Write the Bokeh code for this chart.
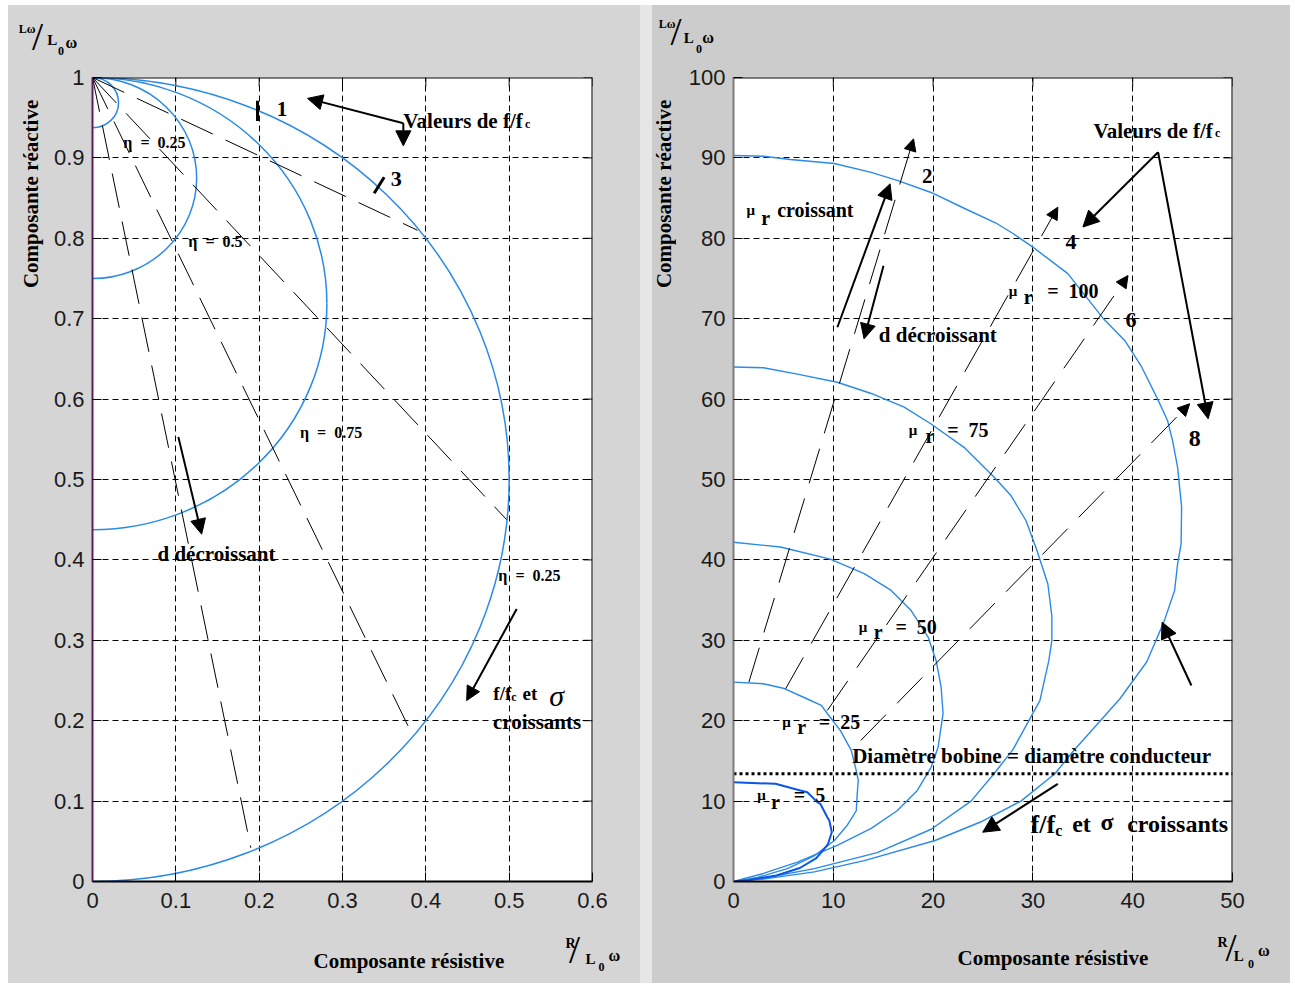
from bokeh.plotting import figure
from bokeh.layouts import row, column
from bokeh.models import (Label, Arrow, NormalHead, FixedTicker, Range1d, Spacer, Span)
from bokeh.embed import file_html
from bokeh.resources import INLINE

# ------------------------------------------------------------------ data
# left panel : normalised impedance, eta circles and constant f/fc rays
L_XTICKS = [0, 0.1, 0.2, 0.3, 0.4, 0.5, 0.6]
L_XLABELS = ["0", "0.1", "0.2", "0.3", "0.4", "0.5", "0.6"]
L_YTICKS = [0, 0.1, 0.2, 0.3, 0.4, 0.5, 0.6, 0.7, 0.8, 0.9, 1]
L_YLABELS = ["0", "0.1", "0.2", "0.3", "0.4", "0.5", "0.6", "0.7", "0.8", "0.9", "1"]

ETA_TOP = [1.0, 1.0, 1.0, 1.0]              # upper end of each eta circle
ETA_BOTTOM = [0.9375, 0.75, 0.4375, 0.0]    # lower end of each eta circle

RAY_X0 = [0.0, 0.0, 0.0, 0.0]
RAY_Y0 = [1.0, 1.0, 1.0, 1.0]
RAY_X1 = [0.39, 0.497, 0.385, 0.19]
RAY_Y1 = [0.81, 0.45, 0.18, 0.042]

MARK_X0 = [0.198, 0.338]
MARK_Y0 = [0.946, 0.856]
MARK_X1 = [0.198, 0.350]
MARK_Y1 = [0.971, 0.876]

# right panel : curves for several mu_r
R_XTICKS = [0, 10, 20, 30, 40, 50]
R_XLABELS = ["0", "10", "20", "30", "40", "50"]
R_YTICKS = [0, 10, 20, 30, 40, 50, 60, 70, 80, 90, 100]
R_YLABELS = ["0", "10", "20", "30", "40", "50", "60", "70", "80", "90", "100"]

MU5_X = [0.0, 4.2, 6.7, 7.4, 8.4, 8.7, 9.4, 9.6, 9.85, 9.45, 8.3, 6.65, 4.3, 1.5, 0.0]
MU5_Y = [12.35, 12.15, 11.32, 11.1, 9.87, 9.66, 8.0, 7.59, 6.13, 4.6, 2.9, 1.68, 0.75, 0.17, 0.0]

MU25_X = [0.0, 3.0, 5.1, 7.4, 8.8, 9.4, 10.7, 11.8, 12.3, 12.5, 12.4, 12.3, 11.4, 10.1, 8.1,
          5.4, 2.4, 0.0]
MU25_Y = [24.8, 24.6, 24.0, 22.7, 21.9, 20.9, 18.8, 16.3, 13.8, 12.6, 10.9, 8.8, 7.0, 5.1, 3.2,
          1.6, 0.5, 0.0]

MU50_X = [0.0, 4.7, 9.7, 13.1, 15.8, 17.8, 19.5, 20.3, 20.8, 21.0, 20.5, 19.8, 18.4, 16.4,
          13.8, 10.4, 6.4, 3.0, 0.0]
MU50_Y = [42.2, 41.6, 40.1, 38.3, 36.2, 33.7, 30.4, 27.5, 24.2, 20.9, 16.7, 14.2, 11.3, 8.8,
          6.6, 4.5, 2.4, 1.0, 0.0]

MU75_X = [0.0, 3.0, 6.4, 10.4, 13.8, 17.1, 19.8, 23.1, 26.1, 27.8, 29.3, 30.4, 31.5, 31.9,
          31.9, 31.6, 30.7, 28.0, 26.1, 23.8, 19.8, 14.4, 8.1, 3.0, 0.0]
MU75_Y = [64.0, 63.9, 63.1, 62.1, 60.7, 59.0, 56.9, 54.0, 50.3, 48.0, 44.9, 41.2, 37.0, 33.0,
          30.0, 27.5, 22.5, 16.4, 13.4, 10.0, 6.5, 3.6, 1.6, 0.4, 0.0]

MU100_X = [0.0, 3.0, 5.7, 10.1, 13.8, 16.4, 19.8, 23.0, 26.3, 28.0, 30.0, 33.5, 37.0, 39.2,
           40.9, 42.5, 43.5, 44.0, 44.5, 44.9, 44.85, 44.5, 44.2, 43.1, 41.4, 38.7, 34.1,
           32.2, 28.8, 24.75, 20.2, 13.1, 8.1, 3.0, 0.0]
MU100_Y = [90.3, 90.2, 89.8, 89.3, 88.2, 87.2, 85.7, 83.8, 81.9, 80.6, 78.9, 75.6, 70.1, 67.3,
           64.0, 60.0, 57.3, 54.8, 51.5, 46.6, 42.0, 39.5, 36.2, 32.2, 27.3, 22.7, 16.3,
           13.4, 10.0, 7.4, 5.1, 2.6, 1.2, 0.3, 0.0]

# constant f/fc lines (2, 4, 6, 8)
FF_X0 = [1.54, 5.22, 9.4, 12.75]
FF_Y0 = [24.79, 23.97, 21.27, 17.54]
FF_X1 = [18.04, 32.5, 39.53, 45.71]
FF_Y1 = [92.37, 83.87, 75.37, 59.42]

DOT_X = [0.0, 50.0]
DOT_Y = [13.4, 13.4]

# ------------------------------------------------------------------ style
BLUE = "#2a8ae8"
DARK_BLUE = "#0a55e6"
SERIF = "Liberation Serif"
SANS = "Liberation Sans"
BG_L = "#d5d5d5"
BG_R = "#cccccc"
NB = "\u00a0"
MAIN_H = 859


def base_fig(width, xr, yr, xt, xl, yt, yl, bl, br, bg, left_line):
    p = figure(width=width, height=MAIN_H, x_range=Range1d(*xr), y_range=Range1d(*yr),
               output_backend="svg", toolbar_location=None,
               min_border_left=bl, min_border_right=br, min_border_top=15,
               min_border_bottom=40, border_fill_color=bg,
               background_fill_color="white", outline_line_color=None)
    for ax, ticks, labels in ((p.xaxis[0], xt, xl), (p.yaxis[0], yt, yl)):
        ax.ticker = FixedTicker(ticks=ticks)
        ax.major_label_overrides = dict(zip(ticks, labels))
        ax.major_label_text_font = SANS
        ax.major_label_text_font_size = "22px"
        ax.major_label_text_color = "#1a1a1a"
        ax.major_tick_in = 9
        ax.major_tick_out = 0
        ax.minor_tick_line_color = None
        ax.axis_line_width = 2
        ax.axis_line_color = "black"
        ax.major_tick_line_color = "black"
    p.xaxis[0].major_label_standoff = 11
    p.yaxis[0].major_label_standoff = 8
    p.yaxis[0].axis_line_color = left_line
    p.xgrid[0].ticker = FixedTicker(ticks=xt)
    p.ygrid[0].ticker = FixedTicker(ticks=yt)
    for g in (p.xgrid[0], p.ygrid[0]):
        g.grid_line_color = "black"
        g.grid_line_dash = "6 4"
        g.grid_line_alpha = 1.0
        g.grid_line_width = 1
    # inward ticks on the top and right sides, and the box edges
    p.ray(x=xt, y=[yt[-1]] * len(xt), length=9, length_units="screen", angle=-90,
          angle_units="deg", line_color="black", line_width=1)
    p.ray(x=[xt[-1]] * len(yt), y=yt, length=9, length_units="screen", angle=180,
          angle_units="deg", line_color="black", line_width=1)
    p.add_layout(Span(location=yt[-1], dimension="width", line_color="black", line_width=2))
    p.add_layout(Span(location=xt[-1], dimension="height", line_color="black", line_width=2))
    return p


def strip(w, h, bg):
    return figure(width=w, height=h, x_range=Range1d(0, w), y_range=Range1d(0, h),
                  x_axis_type=None, y_axis_type=None, output_backend="svg",
                  toolbar_location=None, min_border=0, background_fill_color=bg,
                  border_fill_color=bg, outline_line_color=None)


def txt(p, x, y, text, size=20, style="bold", font=SERIF, align="left",
        baseline="alphabetic", angle=0):
    p.add_layout(Label(x=x, y=y, text=text, text_font=font,
                       text_font_size=f"{size}px", text_font_style=style,
                       text_align=align, text_baseline=baseline, angle=angle,
                       angle_units="deg", text_color="black"))


def arrow(p, x0, y0, x1, y1, size=14, width=2, dash="solid"):
    p.add_layout(Arrow(x_start=x0, y_start=y0, x_end=x1, y_end=y1,
                       line_width=width, line_color="black", line_dash=dash,
                       end=NormalHead(size=size, fill_color="black",
                                      line_color="black", line_width=1)))


def unit_label(s, num, nsize, nx, ny, sx, sy, lx, ly, zx, zy, wx, wy):
    txt(s, nx, ny, num, nsize)
    txt(s, sx, sy, "/", 40, style="normal", font=SERIF, align="center", baseline="middle")
    txt(s, lx, ly, "L", 15)
    txt(s, zx, zy, "0", 12)
    txt(s, wx, wy, "ω", 16)


# ------------------------------------------------------------------ left
pl = base_fig(592, (0, 0.6), (0, 1), L_XTICKS, L_XLABELS, L_YTICKS, L_YLABELS,
              44, 48, BG_L, "#5a1f5e")

eta_cy = [(t + b) / 2 for t, b in zip(ETA_TOP, ETA_BOTTOM)]
eta_d = [t - b for t, b in zip(ETA_TOP, ETA_BOTTOM)]
pl.ellipse(x=[0.0] * len(eta_cy), y=eta_cy, width=eta_d, height=eta_d,
           fill_color=None, line_color=BLUE, line_width=1.5)
for x0, y0, x1, y1 in zip(RAY_X0, RAY_Y0, RAY_X1, RAY_Y1):
    pl.line([x0, x1], [y0, y1], line_color="black", line_width=1, line_dash="35 14")
pl.segment(x0=MARK_X0, y0=MARK_Y0, x1=MARK_X1, y1=MARK_Y1, line_color="black",
           line_width=3)

txt(pl, 0.221, 0.961, "1", 21)
txt(pl, 0.358, 0.874, "3", 22)
txt(pl, 0.373, 0.9465, "Valeurs de f/f", 21)
txt(pl, 0.519, 0.9425, "c", 12)
arrow(pl, 0.373, 0.943, 0.258, 0.974, 15)
arrow(pl, 0.373, 0.943, 0.373, 0.915, 15)
txt(pl, 0.037, 0.919, f"η{NB}{NB}={NB}{NB}0.25", 16)
txt(pl, 0.115, 0.796, f"η{NB}{NB}={NB}{NB}0.5", 16)
txt(pl, 0.249, 0.559, f"η{NB}{NB}={NB}{NB}0.75", 16)
txt(pl, 0.487, 0.381, f"η{NB}{NB}={NB}{NB}0.25", 16)
txt(pl, 0.078, 0.407, "d décroissant", 21)
arrow(pl, 0.103, 0.553, 0.131, 0.432, 15)
txt(pl, 0.481, 0.2335, "f/f", 19)
txt(pl, 0.5025, 0.229, "c", 12)
txt(pl, 0.516, 0.2335, "et", 19)
txt(pl, 0.548, 0.231, "σ", 30, style="italic")
txt(pl, 0.4805, 0.198, "croissants", 21)
arrow(pl, 0.509, 0.339, 0.449, 0.225, 14)

topL = strip(632, 57, BG_L)
unit_label(topL, "Lω", 12, 10.3, 33.7, 29.0, 26.0, 38.7, 22.7, 49.5, 11.3, 57.0, 20.3)
leftL = strip(40, MAIN_H, BG_L)
txt(leftL, 22, 634, "Composante réactive", 21, angle=90, baseline="middle")
botL = strip(632, 62, BG_L)
txt(botL, 305, 23, "Composante résistive", 21)
unit_label(botL, "R", 14, 557, 40, 566.0, 34.5, 577, 24.7, 590.0, 16.3, 600, 28)

# ------------------------------------------------------------------ right
pr = base_fig(614, (0, 50), (0, 100), R_XTICKS, R_XLABELS, R_YTICKS, R_YLABELS,
              57, 58, BG_R, "#7c7c7c")

for xs, ys in ((MU25_X, MU25_Y), (MU50_X, MU50_Y), (MU75_X, MU75_Y), (MU100_X, MU100_Y)):
    pr.line(xs, ys, line_color=BLUE, line_width=1.4)
pr.line(MU5_X, MU5_Y, line_color=DARK_BLUE, line_width=2)
pr.line(DOT_X, DOT_Y, line_color="black", line_width=3, line_dash="3 3")
for x0, y0, x1, y1 in zip(FF_X0, FF_Y0, FF_X1, FF_Y1):
    arrow(pr, x0, y0, x1, y1, 12, 1, "36 16")

txt(pr, 18.9, 87.8, "2", 21)
txt(pr, 33.27, 79.5, "4", 22)
txt(pr, 39.28, 69.8, "6", 22)
txt(pr, 45.62, 55.06, "8", 24)
txt(pr, 36.07, 93.4, "Valeurs de f/f", 21)
txt(pr, 48.25, 93.15, "c", 12)
arrow(pr, 42.54, 90.7, 35.01, 81.4, 16)
arrow(pr, 42.54, 90.7, 47.56, 57.55, 16)

txt(pr, 1.3, 83.46, "μ", 15)
txt(pr, 2.78, 82.55, "r", 20)
txt(pr, 4.38, 83.46, "croissant", 20)
arrow(pr, 10.41, 68.94, 15.69, 86.78, 15)
txt(pr, 14.56, 68.03, "d décroissant", 21)
arrow(pr, 15.03, 76.6, 13.08, 67.5, 15)

for mx, rx, ex, by, ry, lab in ((27.59, 29.09, 31.43, 73.5, 72.67, "100"),
                                (17.57, 19.24, 21.41, 56.1, 55.47, "75"),
                                (12.56, 14.06, 16.23, 31.63, 31.0, "50"),
                                (4.88, 6.38, 8.55, 19.82, 19.19, "25"),
                                (2.37, 3.77, 6.04, 10.7, 9.95, "5")):
    txt(pr, mx, by, "μ", 15)
    txt(pr, rx, ry, "r", 20)
    txt(pr, ex, by, f"={NB}{NB}{lab}", 20)

txt(pr, 11.89, 15.67, "Diamètre bobine = diamètre conducteur", 21)
txt(pr, 29.76, 7.09, "f/f", 26)
txt(pr, 32.25, 6.4, "c", 16)
txt(pr, 33.94, 7.09, "et", 24)
txt(pr, 36.77, 7.4, "σ", 24)
txt(pr, 39.45, 7.09, "croissants", 24)
arrow(pr, 32.5, 12.15, 24.97, 6.13, 16)
arrow(pr, 45.88, 24.38, 42.94, 32.25, 16)

topR = strip(638, 57, BG_R)
unit_label(topR, "Lω", 12, 6.3, 38.7, 23.5, 31.0, 31.3, 24.7, 43.5, 13.7, 49.7, 24.7)
leftR = strip(24, MAIN_H, BG_R)
txt(leftR, 11, 634, "Composante réactive", 21, angle=90, baseline="middle")
botR = strip(638, 62, BG_R)
txt(botR, 305, 26, "Composante résistive", 21)
unit_label(botR, "R", 14, 565.0, 41.3, 578.5, 36.5, 581.3, 28, 595.5, 19.7, 605.6, 33)

# ------------------------------------------------------------------ page
panelL = column(topL, row(leftL, pl, styles={"background-color": BG_L}), botL,
                styles={"background-color": BG_L})
panelR = column(topR, row(leftR, pr, styles={"background-color": BG_R}), botR,
                styles={"background-color": BG_R})
gap = Spacer(width=12, height=978, styles={"background-color": "#e6e6e6"})
page = column(Spacer(width=1290, height=5),
              row(Spacer(width=8, height=978), panelL, gap, panelR))

open("out.html", "w").write(file_html(page, INLINE))
